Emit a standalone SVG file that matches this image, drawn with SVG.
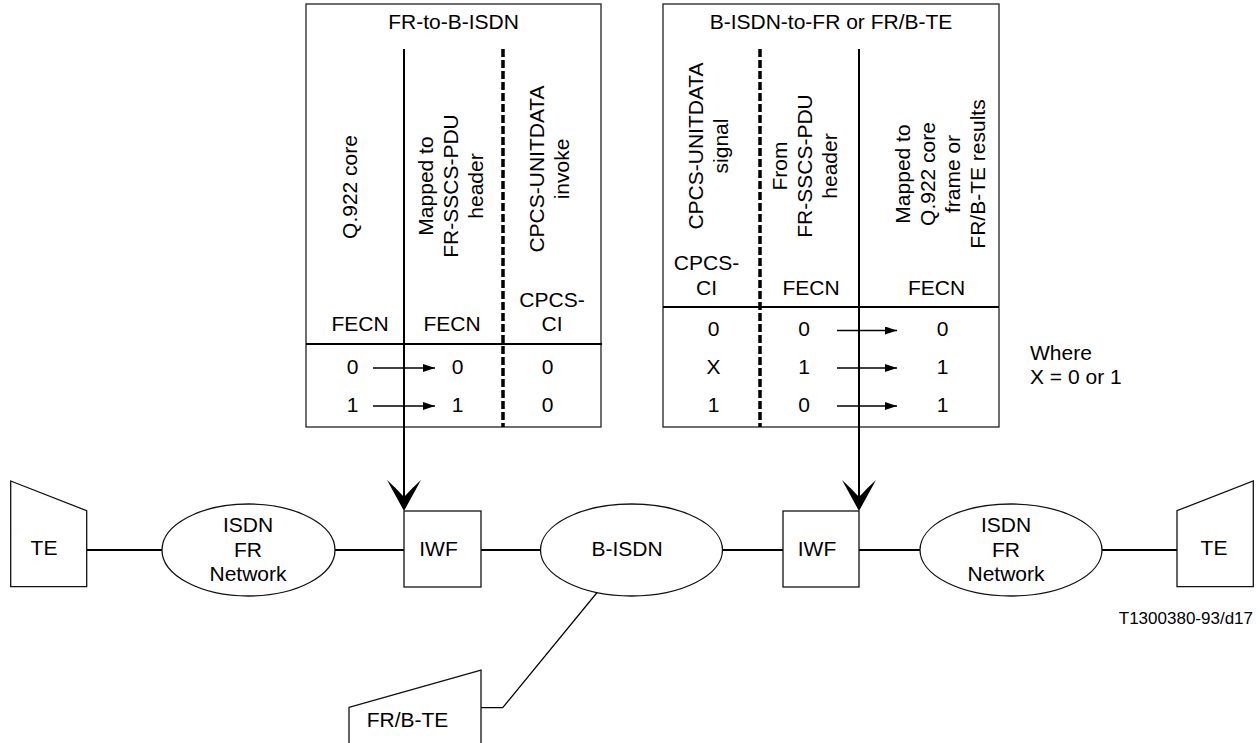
<svg xmlns="http://www.w3.org/2000/svg" width="1259" height="743" viewBox="0 0 1259 743">
<style>
text{font-family:"Liberation Sans",Arial,sans-serif;font-size:21px;fill:#000}
.m{text-anchor:middle}
.box{fill:none;stroke:#222;stroke-width:1.3}
.sol{stroke:#000;stroke-width:2;fill:none}
.dash{stroke:#000;stroke-width:3.5;stroke-dasharray:8 3;fill:none}
.thin{stroke:#000;stroke-width:1.2;fill:none}
.arr{stroke:#000;stroke-width:1.7;fill:none}
.shape{fill:#fff;stroke:#111;stroke-width:1.3}
.link{stroke:#000;stroke-width:2;fill:none}
</style>
<defs>
<marker id="ah" markerWidth="12" markerHeight="8" refX="12" refY="4" orient="auto" markerUnits="userSpaceOnUse">
<path d="M0,0 L12,4 L0,8 Z" fill="#000"/>
</marker>
</defs>

<g id="table-fr-to-bisdn">
<rect class="box" x="306" y="4" width="295" height="423"/>
<text class="m" x="453.5" y="29">FR-to-B-ISDN</text>
<line class="dash" x1="503" y1="49" x2="503" y2="427"/>
<line class="sol" x1="306" y1="344" x2="602" y2="344"/>
<text class="m" transform="translate(357,187) rotate(-90)">Q.922 core</text>
<text class="m" transform="translate(433,186) rotate(-90)">Mapped to</text>
<text class="m" transform="translate(458,186) rotate(-90)">FR-SSCS-PDU</text>
<text class="m" transform="translate(483,186) rotate(-90)">header</text>
<text class="m" transform="translate(543.5,169) rotate(-90)">CPCS-UNITDATA</text>
<text class="m" transform="translate(568.5,169) rotate(-90)">invoke</text>
<text class="m" x="360" y="331">FECN</text>
<text class="m" x="452" y="331">FECN</text>
<text class="m" x="552" y="307">CPCS-</text>
<text class="m" x="552" y="331">CI</text>
<text class="m" x="352.5" y="374">0</text>
<text class="m" x="352.5" y="412">1</text>
<text class="m" x="457.5" y="374">0</text>
<text class="m" x="457.5" y="412">1</text>
<text class="m" x="547.5" y="374">0</text>
<text class="m" x="547.5" y="412">0</text>
<line class="arr" x1="373" y1="368" x2="435" y2="368" marker-end="url(#ah)"/>
<line class="arr" x1="373" y1="406" x2="435" y2="406" marker-end="url(#ah)"/>
</g>

<g id="table-bisdn-to-fr">
<rect class="box" x="663" y="4" width="336" height="423"/>
<text class="m" x="831" y="29">B-ISDN-to-FR or FR/B-TE</text>
<line class="dash" x1="760" y1="49" x2="760" y2="427"/>
<line class="sol" x1="663" y1="307" x2="999" y2="307"/>
<text class="m" transform="translate(702.5,146) rotate(-90)">CPCS-UNITDATA</text>
<text class="m" transform="translate(727.5,146) rotate(-90)">signal</text>
<text class="m" transform="translate(786.5,166) rotate(-90)">From</text>
<text class="m" transform="translate(811.5,166) rotate(-90)">FR-SSCS-PDU</text>
<text class="m" transform="translate(836.5,166) rotate(-90)">header</text>
<text class="m" transform="translate(910,174) rotate(-90)">Mapped to</text>
<text class="m" transform="translate(935,174) rotate(-90)">Q.922 core</text>
<text class="m" transform="translate(960,174) rotate(-90)">frame or</text>
<text class="m" transform="translate(985,174) rotate(-90)">FR/B-TE results</text>
<text class="m" x="706.5" y="270">CPCS-</text>
<text class="m" x="706.5" y="295">CI</text>
<text class="m" x="811" y="295">FECN</text>
<text class="m" x="936.5" y="295">FECN</text>
<text class="m" x="713.5" y="336">0</text>
<text class="m" x="713.5" y="373.5">X</text>
<text class="m" x="713.5" y="411.5">1</text>
<text class="m" x="804" y="336">0</text>
<text class="m" x="804" y="373.5">1</text>
<text class="m" x="804" y="411.5">0</text>
<text class="m" x="942.5" y="336">0</text>
<text class="m" x="942.5" y="373.5">1</text>
<text class="m" x="942.5" y="411.5">1</text>
<line class="arr" x1="837" y1="330.5" x2="897" y2="330.5" marker-end="url(#ah)"/>
<line class="arr" x1="837" y1="368" x2="897" y2="368" marker-end="url(#ah)"/>
<line class="arr" x1="837" y1="406" x2="897" y2="406" marker-end="url(#ah)"/>
</g>

<g id="note-where">
<text x="1030" y="360">Where</text>
<text x="1030" y="384">X = 0 or 1</text>
</g>

<g id="connectors">
<line class="link" x1="404" y1="49" x2="404" y2="498"/>
<path d="M404,511 L387,480 Q396,488 404,497 Q412,488 421,480 Z" fill="#000"/>
<line class="link" x1="859" y1="49" x2="859" y2="498"/>
<path d="M859,511 L842,480 Q851,488 859,497 Q867,488 876,480 Z" fill="#000"/>
<line class="link" x1="87" y1="550" x2="162" y2="550"/>
<line class="link" x1="335" y1="550" x2="404" y2="550"/>
<line class="link" x1="481" y1="550" x2="541" y2="550"/>
<line class="link" x1="722" y1="550" x2="783" y2="550"/>
<line class="link" x1="859" y1="550" x2="920" y2="550"/>
<line class="link" x1="1102" y1="550" x2="1177" y2="550"/>
<polyline class="thin" points="597.5,592 502.7,707.7 481,707.7"/>
</g>

<g id="te-left">
<polygon class="shape" points="10.7,481 86.7,510.7 86.7,586.7 10.7,586.7"/>
<text class="m" x="44" y="555">TE</text>
</g>
<g id="isdn-fr-left">
<ellipse class="shape" cx="248.5" cy="550" rx="86.5" ry="46"/>
<text class="m" x="248" y="531.5">ISDN</text>
<text class="m" x="248" y="556.5">FR</text>
<text class="m" x="248" y="581">Network</text>
</g>
<g id="iwf-left">
<rect class="shape" x="404" y="511" width="77" height="76"/>
<text class="m" x="438.5" y="556">IWF</text>
</g>
<g id="bisdn">
<ellipse class="shape" cx="631.5" cy="550" rx="91" ry="46"/>
<text class="m" x="627" y="556">B-ISDN</text>
</g>
<g id="iwf-right">
<rect class="shape" x="783" y="511" width="76" height="76"/>
<text class="m" x="817" y="556">IWF</text>
</g>
<g id="isdn-fr-right">
<ellipse class="shape" cx="1011" cy="550" rx="91" ry="46"/>
<text class="m" x="1006" y="531.5">ISDN</text>
<text class="m" x="1006" y="556.5">FR</text>
<text class="m" x="1006" y="581">Network</text>
</g>
<g id="te-right">
<polygon class="shape" points="1177,510.7 1253.3,481 1253.3,586.7 1177,586.7"/>
<text class="m" x="1214" y="555">TE</text>
</g>
<g id="frb-te">
<polygon class="shape" points="349,707.3 481,670 481,760 349,760"/>
<text class="m" x="407.5" y="727">FR/B-TE</text>
</g>
<text x="1253" y="624" style="font-size:17px;text-anchor:end">T1300380-93/d17</text>
</svg>
